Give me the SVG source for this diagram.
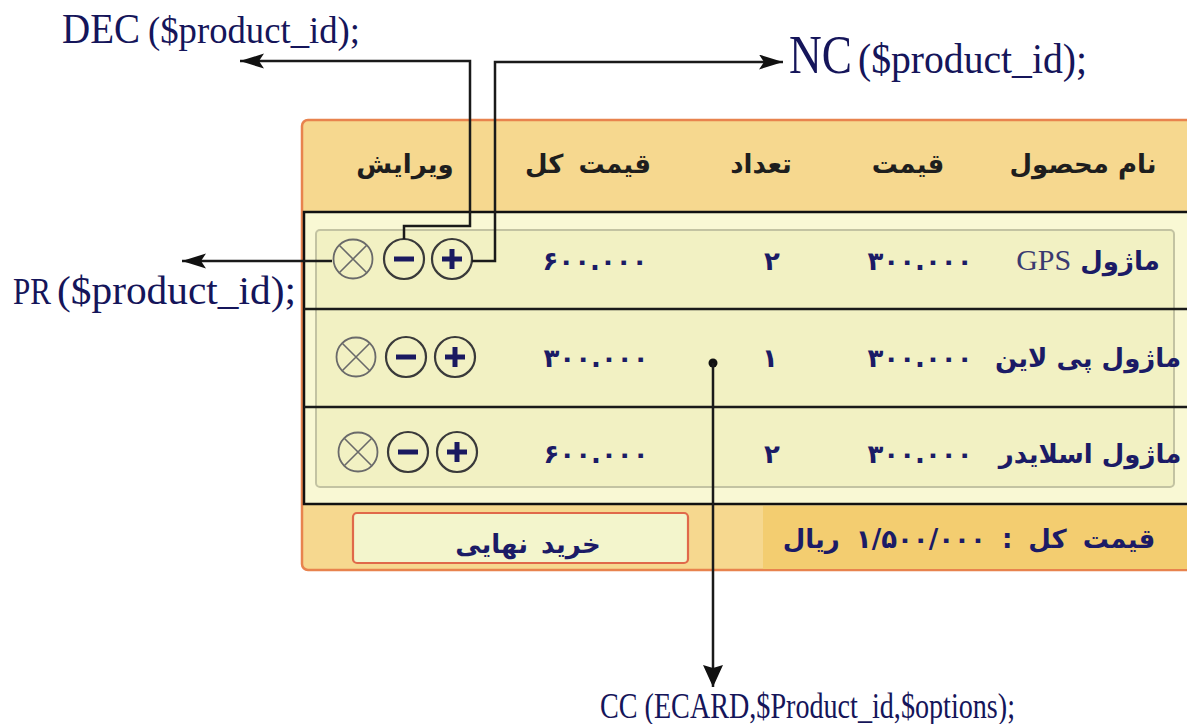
<svg xmlns="http://www.w3.org/2000/svg" width="1187" height="724" viewBox="0 0 1187 724">
  <style>
    .code { font-family: "Liberation Serif", "Times New Roman", serif; fill: #15155a; }
    .fa { font-family: "DejaVu Sans", sans-serif; font-weight: bold; text-anchor: middle; }
    .head { font-size: 26px; fill: #1e1e1e; }
    .cell { font-size: 26px; fill: #1b1b66; }
    .num { letter-spacing: 1px; }
    .wire { fill: none; stroke: #1a1a1a; stroke-width: 2.5; }
    .sep { stroke: #1a1a1a; stroke-width: 2.5; }
    .ring-x { fill: none; stroke: #6a6a6a; stroke-width: 1.8; }
    .ring { fill: none; stroke: #3a3a3a; stroke-width: 2.2; }
    .bar { stroke: #1a1a60; stroke-width: 5; stroke-linecap: butt; }
  </style>
  <defs>
    <marker id="arrow" markerUnits="userSpaceOnUse" markerWidth="26" markerHeight="16" refX="24" refY="7.5" orient="auto">
      <path d="M0,0 L24,7.5 L0,15 L5,7.5 z" fill="#111"/>
    </marker>
    <marker id="arrow-big" markerUnits="userSpaceOnUse" markerWidth="24" markerHeight="22" refX="22" refY="10" orient="auto">
      <path d="M0,0 L22,10 L0,20 L3,10 z" fill="#111"/>
    </marker>
    <g id="btn-remove">
      <circle r="19.5" class="ring-x"/>
      <path d="M-13.5,-13.5 L13.5,13.5 M13.5,-13.5 L-13.5,13.5" stroke="#6a6a6a" stroke-width="1.6"/>
    </g>
    <g id="btn-minus">
      <circle r="20" class="ring"/>
      <line x1="-10" y1="0" x2="10" y2="0" class="bar"/>
    </g>
    <g id="btn-plus">
      <circle r="20" class="ring"/>
      <line x1="-10" y1="0" x2="10" y2="0" class="bar"/>
      <line x1="0" y1="-10" x2="0" y2="10" class="bar"/>
    </g>
  </defs>

  <rect width="1187" height="724" fill="#ffffff"/>

  <!-- cart panel -->
  <g id="cart">
    <rect x="302" y="120" width="920" height="450" rx="6" fill="#f6d88f" stroke="#e8834e" stroke-width="2.5"/>
    <rect x="304" y="212" width="920" height="292" fill="#f9f8d4" stroke="#111" stroke-width="2.5"/>
    <rect x="316" y="230" width="858" height="257" rx="4" fill="#f2f1c3" stroke="#c3c3a2" stroke-width="2"/>
    <line x1="304" y1="309" x2="1187" y2="309" class="sep"/>
    <line x1="304" y1="407" x2="1187" y2="407" class="sep"/>
  </g>

  <g id="header">
    <text x="1083" y="173" class="fa head" direction="rtl">نام محصول</text>
    <text x="908" y="173" class="fa head" direction="rtl">قیمت</text>
    <text x="761" y="173" class="fa head" direction="rtl">تعداد</text>
    <text x="588" y="173" class="fa head" direction="rtl" word-spacing="6">قیمت کل</text>
    <text x="405" y="173" class="fa head" direction="rtl">ویرایش</text>
  </g>

  <g id="row-1">
    <text x="1088" y="270" class="fa cell" direction="rtl">ماژول <tspan font-family="Liberation Serif, serif" font-weight="normal" font-size="30" fill="#3a3a70">GPS</tspan></text>
    <text x="920" y="270" class="fa cell num">۳۰۰.۰۰۰</text>
    <text x="772" y="270" class="fa cell">۲</text>
    <text x="595" y="270" class="fa cell num">۶۰۰.۰۰۰</text>
    <use href="#btn-remove" x="353" y="259"/>
    <use href="#btn-minus" x="404" y="259"/>
    <use href="#btn-plus" x="452" y="259"/>
  </g>

  <g id="row-2">
    <text x="1088" y="367" class="fa cell" direction="rtl">ماژول پی لاین</text>
    <text x="920" y="367" class="fa cell num">۳۰۰.۰۰۰</text>
    <text x="770" y="367" class="fa cell">۱</text>
    <text x="596" y="367" class="fa cell num">۳۰۰.۰۰۰</text>
    <use href="#btn-remove" x="356" y="357"/>
    <use href="#btn-minus" x="406" y="357"/>
    <use href="#btn-plus" x="455" y="357"/>
  </g>

  <g id="row-3">
    <text x="1090" y="463" class="fa cell" direction="rtl">ماژول اسلایدر</text>
    <text x="920" y="463" class="fa cell num">۳۰۰.۰۰۰</text>
    <text x="772" y="463" class="fa cell">۲</text>
    <text x="596" y="463" class="fa cell num">۶۰۰.۰۰۰</text>
    <use href="#btn-remove" x="358" y="452"/>
    <use href="#btn-minus" x="408" y="452"/>
    <use href="#btn-plus" x="457" y="452"/>
  </g>

  <g id="footer">
    <rect x="763" y="506" width="424" height="63" fill="#f3cd70"/>
    <rect x="353" y="513" width="335" height="50" rx="4" fill="#f3f5cc" stroke="#e0694a" stroke-width="2.2"/>
    <text x="528" y="553" class="fa cell" direction="rtl" word-spacing="4">خرید نهایی</text>
    <text x="969" y="548" class="fa cell num" direction="rtl" word-spacing="7">قیمت کل :  ۱/۵۰۰/۰۰۰  ریال</text>
  </g>

  <!-- function labels -->
  <g id="label-dec">
    <text y="43" class="code"><tspan x="62" font-size="42" textLength="78" lengthAdjust="spacingAndGlyphs">DEC</tspan><tspan x="148" font-size="38" textLength="212" lengthAdjust="spacingAndGlyphs">($product_id);</tspan></text>
  </g>
  <g id="label-nc">
    <text y="73" class="code"><tspan x="789" font-size="54" textLength="63" lengthAdjust="spacingAndGlyphs">NC</tspan><tspan x="858" font-size="42" textLength="229" lengthAdjust="spacingAndGlyphs">($product_id);</tspan></text>
  </g>
  <g id="label-pr">
    <text y="304" class="code"><tspan x="13" font-size="38" textLength="38" lengthAdjust="spacingAndGlyphs">PR</tspan><tspan x="57" font-size="40" textLength="239" lengthAdjust="spacingAndGlyphs">($product_id);</tspan></text>
  </g>
  <g id="label-cc">
    <text x="600" y="718" class="code" font-size="36" textLength="415" lengthAdjust="spacingAndGlyphs">CC (ECARD,$Product_id,$options);</text>
  </g>

  <g id="connectors">
    <path d="M332,261 L182,261" class="wire" marker-end="url(#arrow)"/>
    <path d="M404,239 L404,226 L470,226 L470,61 L240,61" class="wire" marker-end="url(#arrow)"/>
    <path d="M472,261 L495,261 L495,62 L783,62" class="wire" marker-end="url(#arrow)"/>
    <circle cx="713" cy="363" r="4.5" fill="#111"/>
    <path d="M713,363 L713,687" class="wire" marker-end="url(#arrow-big)"/>
  </g>
</svg>
